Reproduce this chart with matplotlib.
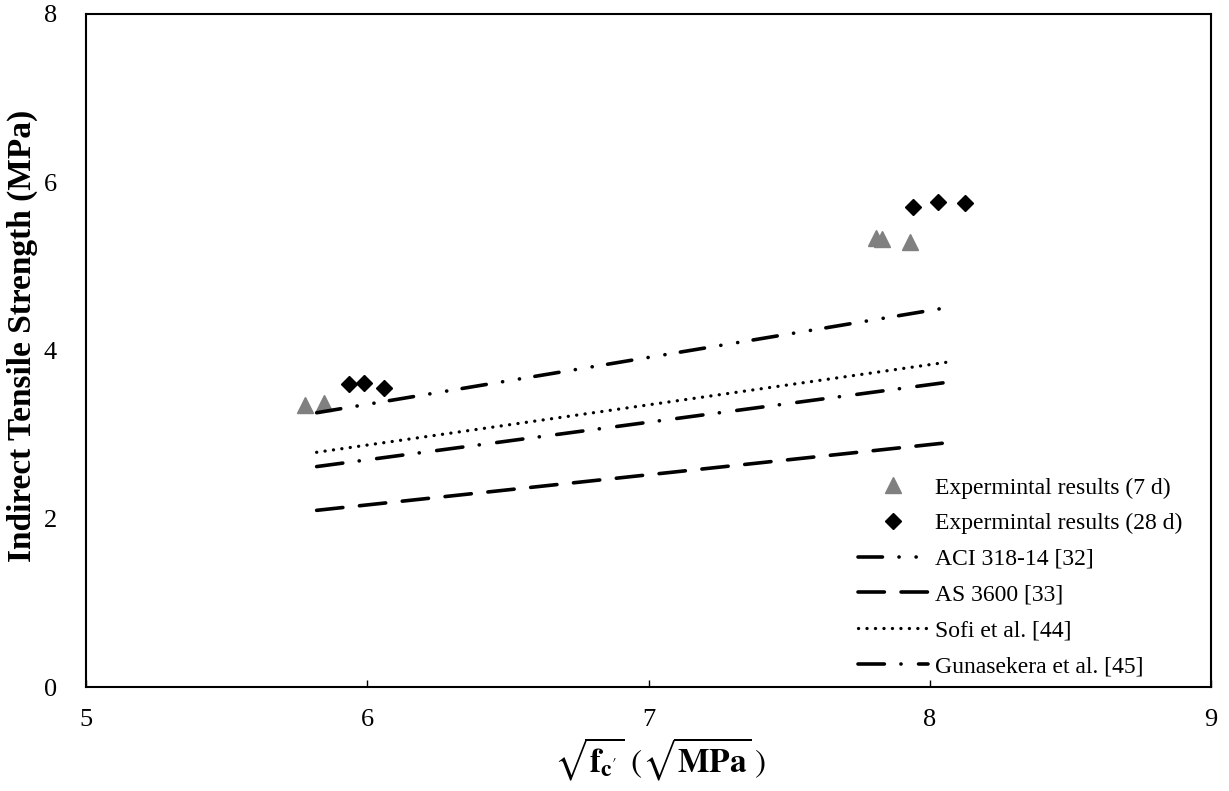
import matplotlib
matplotlib.use("Agg")
import matplotlib.pyplot as plt

plt.rcParams['lines.scale_dashes'] = False
plt.rcParams['font.family'] = ['Liberation Serif', 'DejaVu Serif']
plt.rcParams['mathtext.fontset'] = 'stix'

# Experimental results
x_7d = [5.78, 5.845, 7.81, 7.83, 7.93]
y_7d = [3.35, 3.37, 5.34, 5.33, 5.29]
x_28d = [5.935, 5.99, 6.06, 7.94, 8.03, 8.125]
y_28d = [3.60, 3.61, 3.55, 5.71, 5.76, 5.75]

# Code / model predictions (straight lines)
x_line = [5.82, 8.08]
y_aci = [3.26, 4.52]
y_as = [2.10, 2.91]
y_sofi = [2.79, 3.87]
y_guna = [2.62, 3.63]

labels = ["Expermintal results (7 d)", "Expermintal results (28 d)",
          "ACI 318-14 [32]", "AS 3600 [33]", "Sofi et al. [44]",
          "Gunasekera et al. [45]"]

W, H = 1229, 791
fig = plt.figure(figsize=(W / 100, H / 100), dpi=100)
ax = fig.add_axes([86 / W, 1 - 687 / H, (1211 - 86) / W, (687 - 14) / H])

ax.plot(x_7d, y_7d, linestyle='none', marker='^', markersize=11.5,
        color='#808080', label=labels[0])
ax.plot(x_28d, y_28d, linestyle='none', marker='D', markersize=8.5,
        color='black', label=labels[1])

lw = 2.6
ax.plot(x_line, y_aci, color='black', lw=lw, dash_capstyle='round',
        linestyle=(0, (17.6, 11.9, 0.1, 12.2, 0.1, 11.2)), label=labels[2])
ax.plot(x_line, y_as, color='black', lw=lw, dash_capstyle='round',
        linestyle=(0, (19.0, 12.0)), label=labels[3])
ax.plot(x_line, y_sofi, color='black', lw=lw * 0.9, dash_capstyle='round',
        linestyle=(0, (0.1, 6.0)), label=labels[4])
ax.plot(x_line, y_guna, color='black', lw=lw, dash_capstyle='round',
        linestyle=(0, (19.0, 11.9, 0.1, 12.6)), label=labels[5])

ax.set_xlim(5, 9)
ax.set_ylim(0, 8)
ax.set_xticks([5, 6, 7, 8, 9])
ax.set_yticks([0, 2, 4, 6, 8])
ax.tick_params(axis='x', direction='in', length=5, width=1, pad=16, labelsize=19)
ax.tick_params(axis='y', length=0, pad=21, labelsize=19)
for s in ax.spines.values():
    s.set_linewidth(1.5)

fig.text(22 / W, 1 - 336 / H, "Indirect Tensile Strength (MPa)", fontsize=24,
         fontweight='bold', rotation=90, ha='center', va='center')
fig.text(660 / W, 1 - 759 / H,
         r"$\sqrt{\mathbf{f}_{\mathbf{c}^{\prime}}}\ (\sqrt{\mathbf{MPa}}\,)$",
         fontsize=24, ha='center', va='center')

leg = ax.legend(loc='upper left', frameon=False, fontsize=17,
                bbox_to_anchor=((858 - 86) / (1211 - 86), (687 - 477) / (687 - 14)),
                borderpad=0, borderaxespad=0, handlelength=2.97,
                handletextpad=0.3, labelspacing=0.6, numpoints=1)

fig.savefig("out.png", dpi=100)
